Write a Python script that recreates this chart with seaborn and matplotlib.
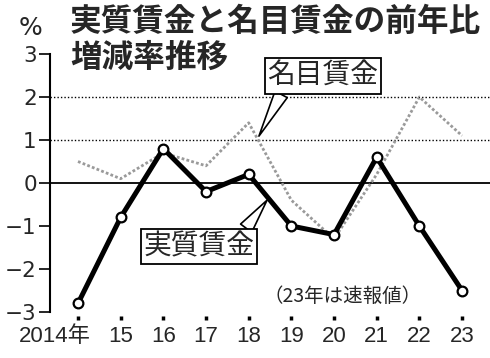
import matplotlib
matplotlib.use("Agg")
import matplotlib.pyplot as plt
from matplotlib import font_manager as fm
from matplotlib.transforms import ScaledTranslation
import seaborn as sns
import pandas as pd

years = [2014, 2015, 2016, 2017, 2018, 2019, 2020, 2021, 2022, 2023]
year_labels = ["2014年", "15", "16", "17", "18", "19", "20", "21", "22", "23"]
real_wage = [-2.8, -0.8, 0.8, -0.2, 0.2, -1.0, -1.2, 0.6, -1.0, -2.5]
nominal_wage = [0.5, 0.1, 0.7, 0.4, 1.4, -0.4, -1.3, 0.2, 2.0, 1.1]
y_ticks = [3, 2, 1, 0, -1, -2, -3]

sns.set_style("white")
plt.rcParams['font.family'] = ['Noto Sans CJK JP', 'DejaVu Sans']
plt.rcParams['axes.unicode_minus'] = False

installed = {f.name for f in fm.fontManager.ttflist}
if 'Liberation Sans Narrow' in installed:
    num_family, num_size = ['Liberation Sans Narrow', 'Noto Sans CJK JP'], 19
else:
    num_family, num_size = ['Liberation Sans', 'Noto Sans CJK JP'], 16

df = pd.DataFrame({"year": years, "real": real_wage, "nominal": nominal_wage})

fig = plt.figure(figsize=(4.9, 3.58), dpi=100)
ppy = 42.67
ax = fig.add_axes([50/490, 1-312/358, 440/490, (312-54)/358])
ax.set_xlim(2014 - 28/ppy, 2014 + 412/ppy)
ax.set_ylim(-3, 3)

for g in [2, 1]:
    ax.axhline(g, color='black', lw=1.0, linestyle=(0, (1, 1.5)), zorder=1)
ax.axhline(0, color='black', lw=1.3, zorder=1)

sns.lineplot(data=df, x="year", y="nominal", ax=ax, color='#9a9a9a', lw=2.0,
             linestyle=(0, (1, 0.8)), zorder=2)
sns.lineplot(data=df, x="year", y="real", ax=ax, color='black', lw=3.6,
             marker='o', markersize=7, markerfacecolor='white',
             markeredgecolor='black', markeredgewidth=1.6, zorder=3, clip_on=False)

for s in ['top', 'right']:
    ax.spines[s].set_visible(False)
ax.spines['left'].set_bounds(-3, 3)
ax.spines['left'].set_linewidth(1.5)
ax.spines['left'].set_color('black')
ax.spines['bottom'].set_position(('outward', 3))
ax.spines['bottom'].set_color('none')

ax.set_yticks(y_ticks)
ax.set_yticklabels([str(v).replace('-', '−') for v in y_ticks],
                   fontsize=15.5, family=['DejaVu Sans'])
ax.set_xticks(years)
ax.set_xticklabels(year_labels, fontsize=num_size, family=num_family)
ax.tick_params(axis='y', length=8, width=1.2, color='black', pad=1.5, direction='out', left=True)
ax.tick_params(axis='x', length=3, width=2.5, color='black', pad=4, direction='out', bottom=True)
ax.set_xlabel("")
ax.set_ylabel("")

first = ax.get_xticklabels()[0]
first.set_ha('right')
first.set_transform(first.get_transform() + ScaledTranslation(13/100, 0, fig.dpi_scale_trans))

fig.text(70/490, 1-22/358, "実質賃金と名目賃金の前年比", fontsize=22.8, fontweight='bold',
         va='center', ha='left')
fig.text(70/490, 1-58/358, "増減率推移", fontsize=22.8, fontweight='bold',
         va='center', ha='left')
fig.text(19/490, 1-28/358, "%", fontsize=18, va='center', ha='left', family=['DejaVu Sans'])

box = dict(boxstyle='square,pad=0.1', fc='white', ec='black', lw=1.3)
ax.annotate("名目賃金", xy=(2018.24, 1.09), xytext=(2019.74, 2.49),
            fontsize=20, ha='center', va='center', bbox=box, zorder=5,
            arrowprops=dict(arrowstyle='wedge,tail_width=0.5,shrink_factor=0.5',
                            fc='white', ec='black', lw=1.2, relpos=(0.14, 0.0),
                            shrinkA=0, shrinkB=0))
ax.annotate("実質賃金", xy=(2018.43, -0.40), xytext=(2016.84, -1.48),
            fontsize=20, ha='center', va='center', bbox=box, zorder=5,
            arrowprops=dict(arrowstyle='wedge,tail_width=0.5,shrink_factor=0.5',
                            fc='white', ec='black', lw=1.2, relpos=(0.9, 1.0),
                            shrinkA=0, shrinkB=0))

ax.text(2020.19, -2.63, "（23年は速報値）", fontsize=14, ha='center', va='center')

fig.savefig("out.png", dpi=100)
